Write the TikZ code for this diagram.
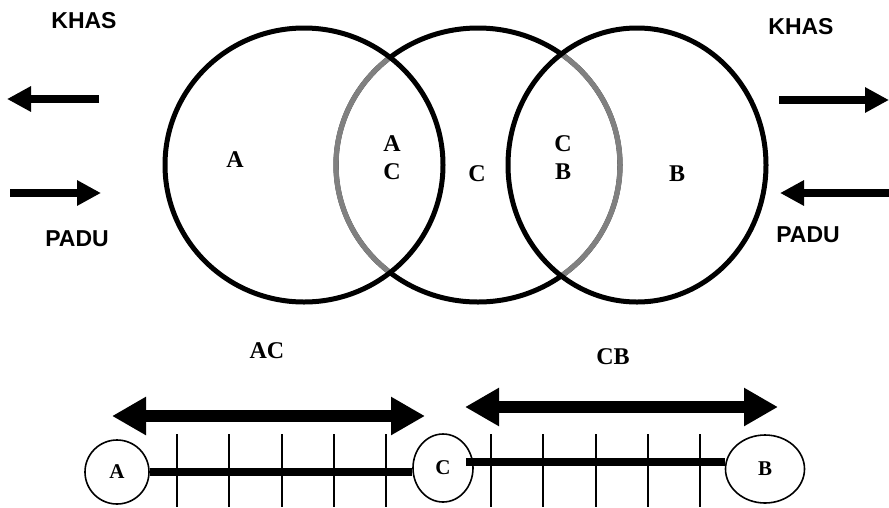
\documentclass[tikz,border=0pt]{standalone}
\usepackage{fontspec}
\setmainfont{Liberation Serif}
\setsansfont{Liberation Sans}
\usetikzlibrary{arrows.meta, shapes.geometric}
\definecolor{bogengrau}{RGB}{128,128,128}

\tikzset{
  venn/.style={line width=5pt},
  schnitt/.style={line width=5.3pt, color=bogengrau},
  pfeil/.style={line width=8pt, -{Triangle[length=24pt, width=24pt]}},
  doppel/.style={line width=12pt, {Triangle[length=34pt, width=36pt]}-{Triangle[length=34pt, width=36pt]}},
  punkt/.style={draw, ellipse, line width=1.6pt, inner sep=0pt, font=\bfseries\fontsize{21}{21}\selectfont},
  balken/.style={line width=8pt},
  strich/.style={line width=1.6pt},
  buchst/.style={font=\bfseries\fontsize{24}{24}\selectfont},
  wort/.style={font=\sffamily\bfseries\fontsize{23}{23}\selectfont}
}

\begin{document}
\begin{tikzpicture}[x=1pt, y=-1pt]
  \useasboundingbox (0,0) rectangle (889,507);
  % Mittelpunkte
  \coordinate (mA) at (304,165);
  \coordinate (mC) at (478,165);
  \coordinate (mB) at (637,165);
  % Kreise zeichnen
  \draw[venn] (mC) ellipse [x radius=142pt, y radius=137pt];
  \begin{scope}
    \clip (mA) ellipse [x radius=139pt, y radius=137pt];
    \draw[schnitt] (mC) ellipse [x radius=142pt, y radius=137pt];
  \end{scope}
  \begin{scope}
    \clip (mB) ellipse [x radius=129pt, y radius=137pt];
    \draw[schnitt] (mC) ellipse [x radius=142pt, y radius=137pt];
  \end{scope}
  \draw[venn] (mA) ellipse [x radius=139pt, y radius=137pt];
  \draw[venn] (mB) ellipse [x radius=129pt, y radius=137pt];
  % Beschriftung Kreise
  \node[buchst] (tA) at (235,160) {A};
  \node[buchst] (tAC1) at (392,144) {A};
  \node[buchst] (tAC2) at (392,172) {C};
  \node[buchst] (tC) at (477,174) {C};
  \node[buchst] (tCB1) at (563,144) {C};
  \node[buchst] (tCB2) at (563,172) {B};
  \node[buchst] (tB) at (677,174) {B};
  % KHAS und PADU
  \node[wort] (khasL) at (84,21) {KHAS};
  \node[wort] (khasR) at (801,27) {KHAS};
  \node[wort] (paduL) at (77,239) {PADU};
  \node[wort] (paduR) at (808,235) {PADU};
  \coordinate (kl1) at (99,99);  \coordinate (kl2) at (7,99);
  \coordinate (pl1) at (10,193); \coordinate (pl2) at (101,193);
  \coordinate (kr1) at (779,100); \coordinate (kr2) at (889,100);
  \coordinate (pr1) at (889,193); \coordinate (pr2) at (780,193);
  \draw[pfeil] (kl1) -- (kl2);
  \draw[pfeil] (pl1) -- (pl2);
  \draw[pfeil] (kr1) -- (kr2);
  \draw[pfeil] (pr1) -- (pr2);
  % Strecken unten
  \node[buchst] (lAC) at (267,351) {AC};
  \node[buchst] (lCB) at (613,357) {CB};
  \coordinate (acL) at (112,416); \coordinate (acR) at (425,416);
  \coordinate (cbL) at (465,407); \coordinate (cbR) at (778,407);
  \draw[doppel] (acL) -- (acR);
  \draw[doppel] (cbL) -- (cbR);
  \foreach \x in {177,229,282,334,386,491,543,596,648,700}
    \draw[strich] (\x,434) -- (\x,507);
  \node[punkt, minimum width=64pt, minimum height=64pt] (nA) at (117,472) {A};
  \node[punkt, minimum width=60pt, minimum height=68pt] (nC) at (443,468) {C};
  \node[punkt, minimum width=79pt, minimum height=68pt] (nB) at (765,469) {B};
  \draw[balken] (nA.east) -- (nA.east -| nC.west);
  \draw[balken] ([xshift=-8pt, yshift=6pt]nC.east) -- ([yshift=7pt]nB.west);
\end{tikzpicture}
\end{document}
